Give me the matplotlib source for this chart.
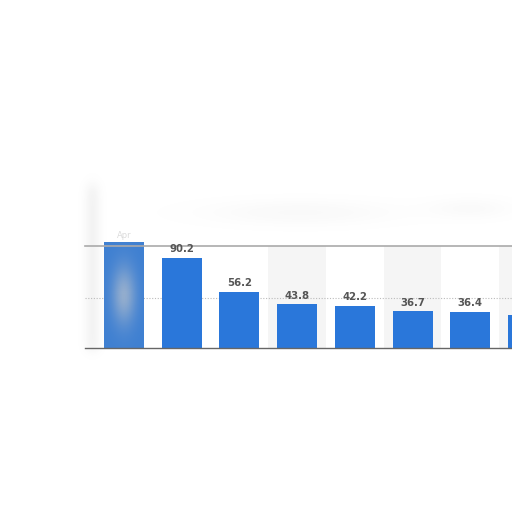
import matplotlib
matplotlib.use("Agg")
import matplotlib.pyplot as plt
import numpy as np

values = [106, 90.2, 56.2, 43.8, 42.2, 36.7, 36.4, 33.0]
value_labels = ["", "90.2", "56.2", "43.8", "42.2", "36.7", "36.4", ""]
bar_color = "#2a77da"

fig = plt.figure(figsize=(5.12, 5.12), dpi=100)
fig.patch.set_facecolor("white")

# faint blurred backdrop (header smudge and left strip)
bg = fig.add_axes([0, 0, 1, 1], zorder=0)
bg.set_xlim(0, 512)
bg.set_ylim(512, 0)
bg.axis("off")
yy, xx = np.mgrid[0:512, 0:512]
shade = np.zeros((512, 512))
shade += 0.05 * np.exp(-((xx - 300) / 90.0) ** 2 - ((yy - 212) / 12.0) ** 2)
shade += 0.04 * np.exp(-((xx - 470) / 40.0) ** 2 - ((yy - 208) / 10.0) ** 2)
vert = 1 / (1 + np.exp(-(yy - 185) / 4.0)) * (1 / (1 + np.exp((yy - 350) / 3.0)))
strip = np.exp(-((xx - 92) / 8.0) ** 2) * vert
shade += 0.10 * strip
rgba = np.zeros((512, 512, 4))
rgba[..., :3] = 0.55
rgba[..., 3] = np.clip(shade, 0, 1)
bg.imshow(rgba, extent=(0, 512, 512, 0), interpolation="bilinear")

ax = fig.add_axes([85/512, (512-348)/512, (512-85)/512, (348-246)/512], zorder=1)
ax.patch.set_alpha(0)
x = np.arange(len(values))

for i in x:
    if i % 2 == 1 and i >= 3:
        ax.axvspan(i - 0.5, i + 0.5, color="#f5f5f5", zorder=0, lw=0)

ax.axhline(50, color="#bbbbbb", lw=0.8, ls=(0, (1, 1.5)), zorder=1)

bars = ax.bar(x, values, width=0.693, color=bar_color, zorder=2)
bars[0].set_clip_on(False)
bars[0].set_facecolor("#3f80d2")

# soft blur highlight over the first bar
gx, gy = np.meshgrid(np.linspace(-1, 1, 60), np.linspace(-1, 1, 120))
blob = np.exp(-(gx / 0.6) ** 2 - ((gy - 0.0) / 0.55) ** 2)
hl = np.zeros((120, 60, 4))
hl[..., :3] = 0.8
hl[..., 3] = 0.6 * blob
ax.imshow(hl, extent=(-0.346, 0.346, 0, 106), aspect="auto", zorder=3,
          interpolation="bilinear", clip_on=False)
ax.set_xlim(-0.676, 6.724)
ax.set_ylim(0, 102)

for xi, v, lab in zip(x, values, value_labels):
    if lab:
        ax.text(xi, v + 3.5, lab, ha="center", va="bottom", fontsize=7.3,
                fontweight="bold", color="#555555", zorder=4)
ax.text(0, values[0] + 1.5, "Apr", ha="center", va="bottom", fontsize=6,
        color="#c4c4c4", alpha=0.6, zorder=4, clip_on=False)

for s in ["left", "right"]:
    ax.spines[s].set_visible(False)
ax.spines["top"].set_color("#aaaaaa")
ax.spines["top"].set_linewidth(1.2)
ax.spines["bottom"].set_color("#666666")
ax.spines["bottom"].set_linewidth(1.0)
ax.set_xticks([])
ax.set_yticks([])

fig.savefig("out.png", dpi=100, facecolor="white")
